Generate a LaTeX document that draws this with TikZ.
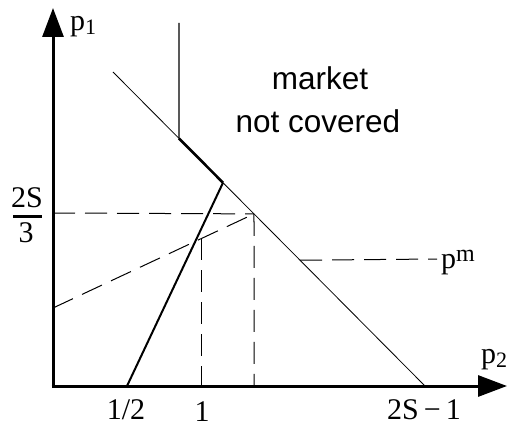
\documentclass[tikz,border=0pt]{standalone}
\usepackage{fontspec}
\setmainfont{Liberation Serif}
\newfontfamily\sansf{Liberation Sans}
\usetikzlibrary{arrows.meta,calc}
\newcommand{\mysub}[1]{\raisebox{-4pt}{\fontsize{22}{22}\selectfont #1}}
\newcommand{\mysup}[1]{\raisebox{7pt}{\fontsize{24}{24}\selectfont #1}}
\begin{document}
\begin{tikzpicture}[x=1pt,y=-1pt,
  axis/.style={line width=3pt,-{Triangle[length=29pt,width=21pt]}},
  thin/.style={line width=0.8pt},
  dsh/.style={line width=1pt,dash pattern=on 22pt off 10pt},
  lbl/.style={inner sep=0pt,anchor=base,font=\fontsize{30}{30}\selectfont},
  slbl/.style={inner sep=0pt,anchor=base,font=\sansf\fontsize{31.5}{36}\selectfont}]
\useasboundingbox (0,0) rectangle (510,427);
% axes
\coordinate (O) at (53,386);
\coordinate (Ytip) at (53,8);
\coordinate (Xtip) at (507,386);
\draw[axis] (O) -- (Ytip);
\draw[axis] ($(O)+(-1.5,0)$) -- (Xtip);
% diagonal
\coordinate (A) at (113,72);
\coordinate (B) at (425,386);
\draw[thin] (A) -- (B);
\coordinate (V) at ($(A)!0.2115!(B)$);
\coordinate (K) at ($(A)!0.3526!(B)$);
\coordinate (E) at ($(A)!0.4519!(B)$);
\coordinate (M) at ($(A)!0.5994!(B)$);
\coordinate (Vtop) at (179,23);
\draw[line width=1.2pt] (Vtop) -- (V);
\draw[line width=2.6pt] (V) -- (K);
\coordinate (H) at (127,386);
\draw[line width=2pt] (K) -- (H);
% dashed lines
\coordinate (Ylow) at (53,308);
\coordinate (Yhi) at (53,213);
\coordinate (Ebot) at (254,386);
\coordinate (F) at (201,238);
\coordinate (Fbot) at (201,386);
\coordinate (Mend) at (437,259);
\draw[dsh] (Ylow) -- (E);
\draw[dsh] (Yhi) -- (E);
\draw[dsh] (E) -- (Ebot);
\draw[dsh] (F) -- (Fbot);
\draw[dsh] (M) -- (Mend);
% labels
\node[lbl,anchor=base west] (p1) at (70,31) {p\mysub{1}};
\node[lbl,anchor=base west] (p2) at (481,363) {p\mysub{2}};
\node[lbl,anchor=base west] (pm) at (441,268) {p\mysup{m}};
\node[lbl] (half) at (126,419) {1/2};
\node[lbl] (one) at (202,421) {1};
\node[lbl] (tsm) at (424,419) {2S\,−\,1};
\node[lbl] (twoS) at (27,208) {2S};
\node[lbl] (three) at (26,242) {3};
\draw[line width=3pt] (13,217) -- (42,217);
\node[slbl] (mk) at (320,90) {market};
\node[slbl] (nc) at (318,133) {not covered};
\end{tikzpicture}
\end{document}
